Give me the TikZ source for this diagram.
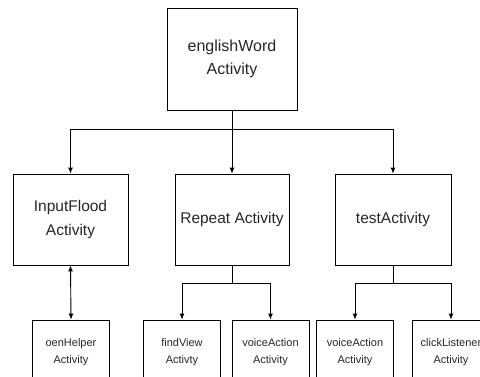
\documentclass[tikz,border=0pt]{standalone}
\usepackage{fontspec}
\setmainfont{Liberation Sans}
\usetikzlibrary{arrows.meta}
\begin{document}
\begin{tikzpicture}[x=1pt,y=-1pt,line width=0.9pt,>={Latex[length=6pt,width=5pt]},
    box/.style={draw, rectangle, inner sep=0pt, align=center, text=black!85},
    bigbox/.style={box, font=\fontsize{15.5}{23.5}\selectfont},
    smallbox/.style={box, minimum width=77pt, minimum height=64pt, font=\fontsize{11}{16.5}\selectfont}]
        \useasboundingbox (0,0) rectangle (480,376);
        \clip (0,0) rectangle (480,376);

        \node[bigbox, minimum width=130pt, minimum height=102pt, font=\fontsize{16}{23.5}\selectfont] (word) at (232, 59) {englishWord\\Activity};
        \node[bigbox, minimum width=115pt, minimum height=91pt] (input) at (70.5, 219.5) {InputFlood\\Activity};
        \node[bigbox, minimum width=114pt, minimum height=91pt] (repeat) at (232, 219.5) {Repeat Activity};
        \node[bigbox, minimum width=116pt, minimum height=91pt] (test) at (393, 219.5) {testActivity};

        \node[smallbox] (oen) at (71, 352) {oenHelper\\Activity};
        \node[smallbox] (find) at (182, 352) {findView\\Activty};
        \node[smallbox] (voiceA) at (270.5, 352) {voiceAction\\Activity};
        \node[smallbox] (voiceB) at (355, 352) {voiceAction\\Activity};
        \node[smallbox] (click) at (451, 352) {clickListener\\Activity};

        \coordinate (wordhub) at (232, 129);
        \coordinate (repeathub) at (232, 283);
        \coordinate (testhub) at (393, 283);

        \draw[->] (word.south) -- (repeat.north);
        \draw[->] (wordhub) -| (input.north);
        \draw[->] (wordhub) -| (test.north);
        \draw[<->] (input.south) -- (oen.north);
        \draw (repeat.south) -- (repeathub);
        \draw[->] (repeathub) -| (find.north);
        \draw[->] (repeathub) -| (voiceA.north);
        \draw (test.south) -- (testhub);
        \draw[->] (testhub) -| (voiceB.north);
        \draw[->] (testhub) -| (click.north);

    \end{tikzpicture}
\end{document}
